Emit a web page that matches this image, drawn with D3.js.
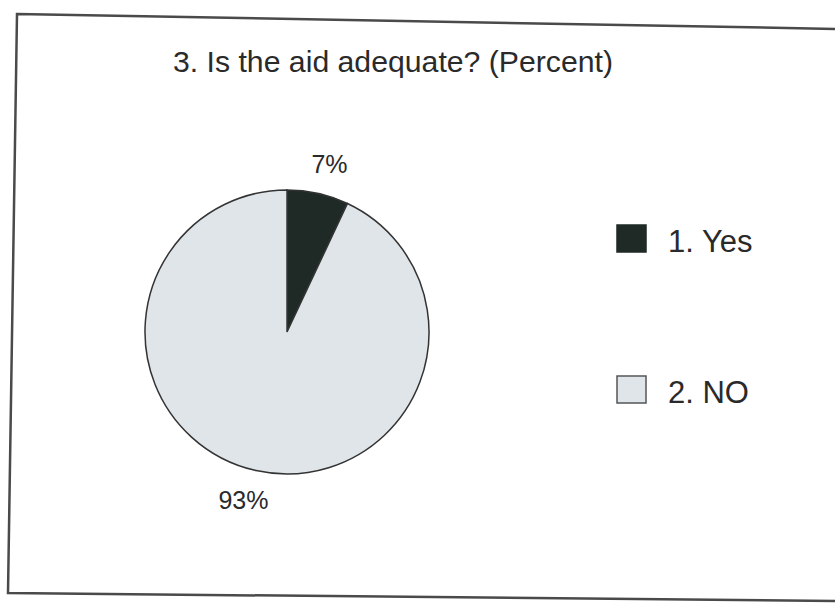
<!DOCTYPE html>
<html>
<head>
<meta charset="utf-8">
<script src="https://cdn.jsdelivr.net/npm/d3@7"></script>
<style>
  body { margin: 0; background: #fff; }
  text { font-family: "Liberation Sans", Arial, sans-serif; fill: #2a2a2a; }
</style>
</head>
<body>
<script>
var w = 835;
var h = 603;

// data
var categories = ["1. Yes", "2. NO"];
var values = [7, 93];
var labels = ["7%", "93%"];
var colors = ["#1f2a26", "#dfe5e9"];

var title = "3. Is the aid adequate? (Percent)";

var svg = d3.select("body")
    .append("svg")
    .attr("width", w)
    .attr("height", h);

// scanned frame, a little skewed
svg.append("path")
    .attr("d", "M17,14 L840,29 L840,601 L8,593 Z")
    .attr("fill", "#fff")
    .attr("stroke", "#4a4a4a")
    .attr("stroke-width", 2.5);

svg.append("text")
    .attr("x", 173)
    .attr("y", 72)
    .attr("textLength", 440)
    .attr("lengthAdjust", "spacingAndGlyphs")
    .style("font-size", "30px")
    .text(title);

var cx = 287, cy = 332, r = 142;

var pie = d3.pie().sort(null).value(function(d){ return d; });
var arcs = pie(values);

var arc = d3.arc().innerRadius(0).outerRadius(r);
var labelArc = d3.arc().innerRadius(r + 30).outerRadius(r + 30);

var g = svg.append("g")
    .attr("transform", "translate(" + cx + "," + cy + ")");

g.selectAll("path")
    .data(arcs)
    .enter()
    .append("path")
    .attr("d", arc)
    .attr("fill", function(d, i){ return colors[i]; })
    .attr("stroke", "#333")
    .attr("stroke-width", 1.5);

g.selectAll("text")
    .data(arcs)
    .enter()
    .append("text")
    .attr("transform", function(d){ return "translate(" + labelArc.centroid(d) + ")"; })
    .attr("text-anchor", "middle")
    .attr("dy", "0.35em")
    .attr("dx", function(d, i){ return i == 0 ? 5 : -6; })
    .style("font-size", "25px")
    .text(function(d, i){ return labels[i]; });

// legend
var legendY = d3.scalePoint().domain(categories).range([238, 389]);

var leg = svg.selectAll(".leg")
    .data(categories)
    .enter()
    .append("g")
    .attr("class", "leg")
    .attr("transform", function(d){ return "translate(617," + legendY(d) + ")"; });

leg.append("rect")
    .attr("x", 0)
    .attr("y", -13)
    .attr("width", 29)
    .attr("height", 27)
    .attr("fill", function(d, i){ return colors[i]; })
    .attr("stroke", function(d, i){ return i == 0 ? colors[0] : "#555"; })
    .attr("stroke-width", 1.5);

leg.append("text")
    .attr("x", 51)
    .attr("y", 14)
    .style("font-size", "31px")
    .text(function(d){ return d; });
</script>
</body>
</html>
